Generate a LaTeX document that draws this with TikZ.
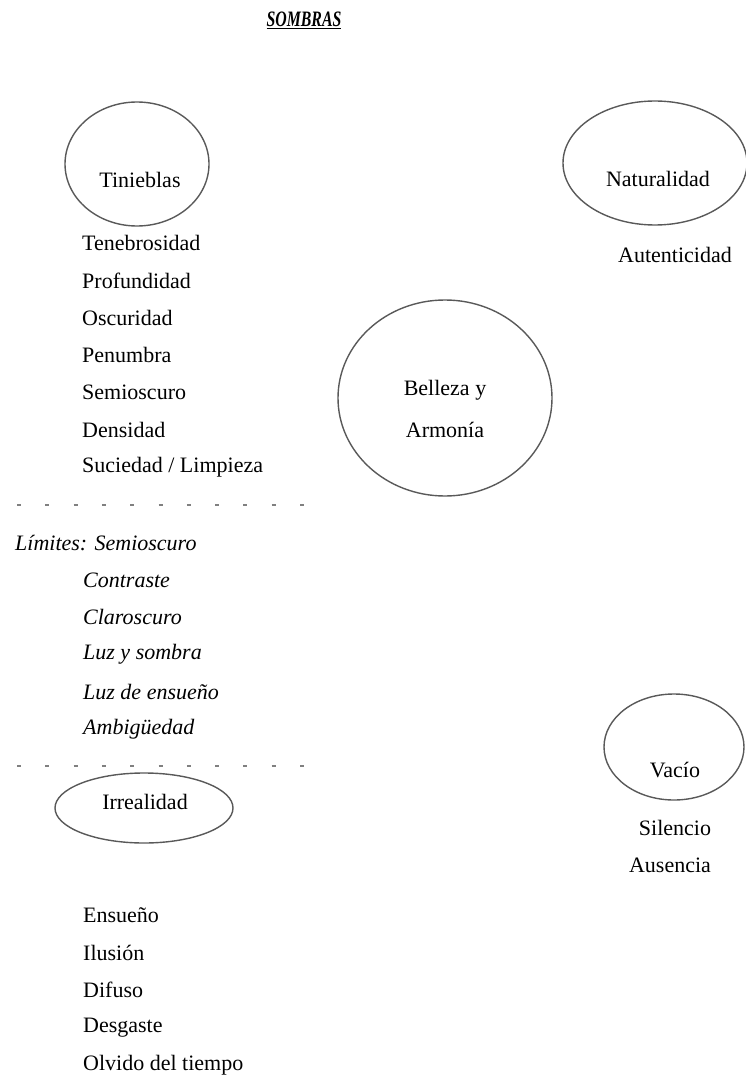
\documentclass[tikz,border=0pt]{standalone}
\usepackage{fontspec}
\setmainfont{Liberation Serif}
\begin{document}
\begin{tikzpicture}[x=1pt,y=-1pt,
  txt/.style={inner sep=0pt,font=\fontsize{22}{24}\selectfont,text=black},
  itx/.style={txt,font=\fontsize{22}{24}\selectfont\itshape},
  oval/.style={draw=black!65,line width=1.4pt},
  sep/.style={draw=black!50,line width=2.5pt,dash pattern=on 4pt off 24.3pt}]
\useasboundingbox (0,0) rectangle (746,1075);
% title
\node[txt,font=\fontsize{22}{24}\selectfont\bfseries\itshape,xscale=0.72] (title) at (304,20) {\underline{SOMBRAS}};
% ellipses
\draw[oval] (137,164) ellipse [x radius=72,y radius=62];
\draw[oval] (655,163) ellipse [x radius=92,y radius=62];
\draw[oval] (445,398) ellipse [x radius=107,y radius=98];
\draw[oval] (674,747) ellipse [x radius=70,y radius=53];
\draw[oval] (144,808) ellipse [x radius=89,y radius=35];
% ellipse labels
\node[txt] (tin) at (140,180) {Tinieblas};
\node[txt] (nat) at (658,179) {Naturalidad};
\node[txt] (aut) at (675,255) {Autenticidad};
\node[txt] (bel1) at (445,390) {Belleza y};
\node[txt] (bel2) at (445,430) {Armonía};
\node[txt] (vac) at (675,770) {Vacío};
\node[txt] (sil) at (675,828) {Silencio};
\node[txt] (aus) at (670,865) {Ausencia};
\node[txt] (irr) at (145,802) {Irrealidad};
% list 1
\foreach \t [count=\i] in {Tenebrosidad,Profundidad,Oscuridad,Penumbra,Semioscuro,Densidad,Suciedad / Limpieza}
  \node[txt,anchor=west] (l\i) at (82,{243+37.4*(\i-1)}) {\t};
% separators
\coordinate (s1a) at (17,505); \coordinate (s1b) at (310,505);
\coordinate (s2a) at (17,766); \coordinate (s2b) at (310,766);
\path[sep] (s1a) -- (s1b);
\path[sep] (s2a) -- (s2b);
% limits
\node[itx,anchor=west] (lim) at (15,543) {Límites: Semioscuro};
\foreach \t [count=\i] in {Contraste,Claroscuro,Luz y sombra,Luz de ensueño,Ambigüedad}
  \node[itx,anchor=west] (m\i) at (83,{580+37.2*(\i-1)}) {\t};
% list 2
\foreach \t [count=\i] in {Ensueño,Ilusión,Difuso,Desgaste,Olvido del tiempo}
  \node[txt,anchor=west] (e\i) at (83,{915+37.5*(\i-1)}) {\t};
\end{tikzpicture}
\end{document}
